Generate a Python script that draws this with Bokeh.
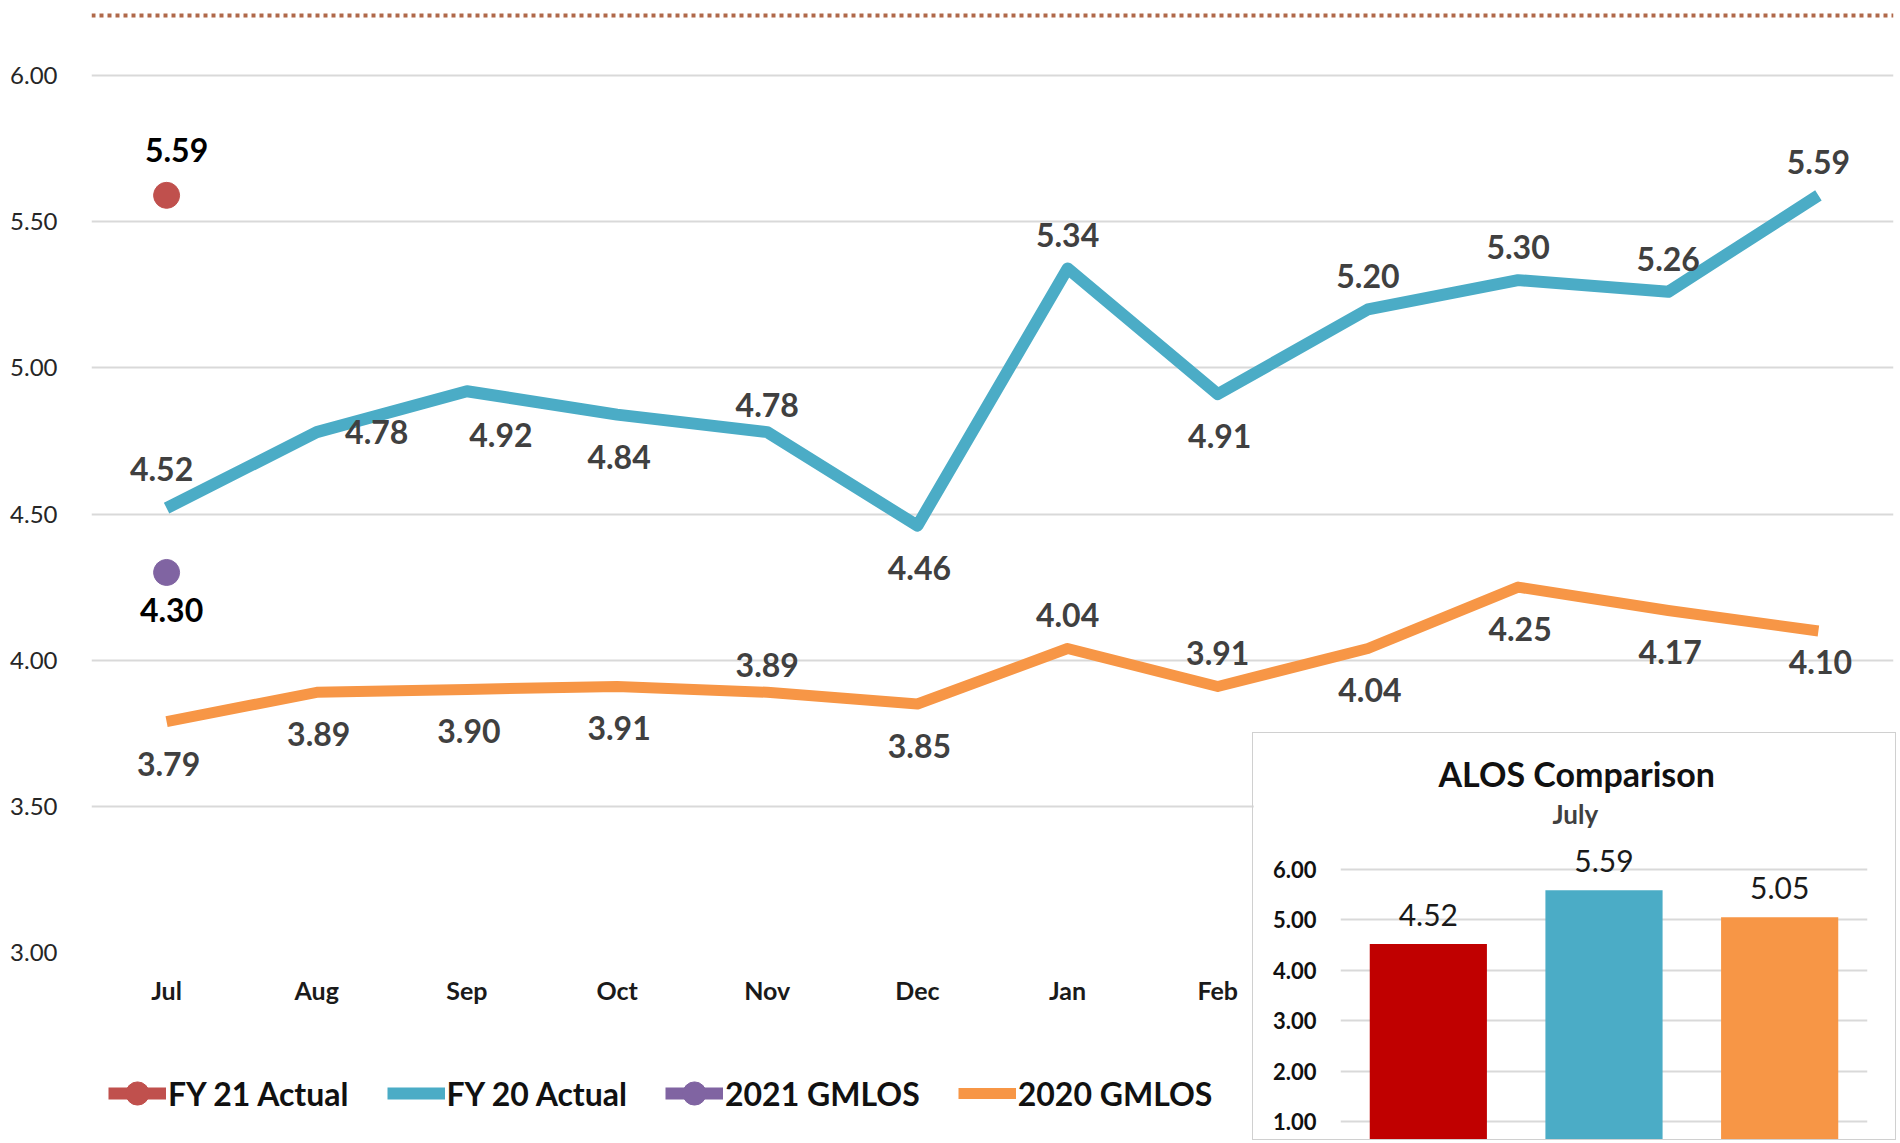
from bokeh.plotting import figure
from bokeh.models import (ColumnDataSource, FactorRange, Range1d, FixedTicker,
                          NumeralTickFormatter, LabelSet, Legend, LegendItem, Span, Title)
from bokeh.core.properties import value
from bokeh.embed import file_html
from bokeh.resources import INLINE

# ---------------- data ----------------
months = ["Jul", "Aug", "Sep", "Oct", "Nov", "Dec", "Jan", "Feb", "Mar", "Apr", "May", "Jun"]
fy20_actual = [4.52, 4.78, 4.92, 4.84, 4.78, 4.46, 5.34, 4.91, 5.20, 5.30, 5.26, 5.59]
gmlos_2020 = [3.79, 3.89, 3.90, 3.91, 3.89, 3.85, 4.04, 3.91, 4.04, 4.25, 4.17, 4.10]
fy21_months = ["Jul"]
fy21_actual = [5.59]
gmlos_2021 = [4.30]
y_ticks = [3.0, 3.5, 4.0, 4.5, 5.0, 5.5, 6.0]

inset_categories = ["FY 21 Actual", "FY 20 Actual", "GMLOS"]
inset_values = [4.52, 5.59, 5.05]
inset_ticks = [1.0, 2.0, 3.0, 4.0, 5.0, 6.0]

# ---------------- styles ----------------
FONT = "Lato"
C_FY21 = "#C0504D"
C_FY20 = "#4BACC6"
C_G21 = "#8064A2"
C_G20 = "#F79646"
inset_colors = ["#C00000", "#4BACC6", "#F79646"]
GRID = "#D9D9D9"

# label placement (style): a=above, b=below, r=right, br=below-right
fy20_pos = ["a_hi", "r", "br", "b", "a_lo", "b", "a", "b", "a", "a", "a", "a"]
g20_pos = ["b", "b", "b", "b", "a_lo", "b", "a", "a", "b", "b", "b", "b_lo"]
OFFS = {"a": (0, 33), "a_hi": (-5, 39), "a_lo": (0, 27),
        "b": (2, -42), "b_lo": (2, -31), "r": (60, 0), "br": (34, -44),
        "a_big": (10, 45), "b_pt": (5, -38)}

# ---------------- main chart ----------------
p = figure(width=1896, height=1140,
           x_range=FactorRange(factors=months, range_padding=0),
           y_range=Range1d(3.0, 6.2292),
           output_backend="svg", toolbar_location=None,
           min_border_left=91, min_border_right=3, min_border_top=8, min_border_bottom=188)
p.outline_line_color = None
p.background_fill_color = "white"
p.border_fill_color = "white"

p.yaxis.ticker = FixedTicker(ticks=y_ticks)
p.yaxis.formatter = NumeralTickFormatter(format="0.00")
p.yaxis.axis_line_color = None
p.yaxis.major_tick_line_color = None
p.yaxis.minor_tick_line_color = None
p.yaxis.major_label_text_font = FONT
p.yaxis.major_label_text_font_size = "24px"
p.yaxis.major_label_text_color = "#262626"
p.yaxis.major_label_standoff = 28

p.xaxis.axis_line_color = None
p.xaxis.major_tick_line_color = None
p.xaxis.minor_tick_line_color = None
p.xaxis.major_label_text_font = FONT
p.xaxis.major_label_text_font_size = "25px"
p.xaxis.major_label_text_font_style = "bold"
p.xaxis.major_label_text_color = "#1a1a1a"
p.xaxis.major_label_standoff = 16

p.xgrid.grid_line_color = None
p.ygrid.ticker = FixedTicker(ticks=y_ticks)
p.ygrid.grid_line_color = GRID
p.ygrid.grid_line_width = 2

top_rule = Span(location=6.2052, dimension="width", line_color="#B0694A",
                line_width=4, line_dash="4 4")
p.add_layout(top_rule)

LINE_STYLES = dict(
    fy21=dict(line_color=C_FY21, line_width=12),
    fy20=dict(line_color=C_FY20, line_width=12, line_join="round"),
    g21=dict(line_color=C_G21, line_width=12),
    g20=dict(line_color=C_G20, line_width=11, line_join="round"),
)


def draw_series(fig):
    r = {}
    r["fy21_line"] = fig.line(fy21_months, fy21_actual, **LINE_STYLES["fy21"])
    r["fy21_pt"] = fig.scatter(fy21_months, fy21_actual, size=26, fill_color=C_FY21, line_color=C_FY21)
    r["fy20"] = fig.line(months, fy20_actual, **LINE_STYLES["fy20"])
    r["g21_line"] = fig.line(fy21_months, gmlos_2021, **LINE_STYLES["g21"])
    r["g21_pt"] = fig.scatter(fy21_months, gmlos_2021, size=26, fill_color=C_G21, line_color=C_G21)
    r["g20"] = fig.line(months, gmlos_2020, **LINE_STYLES["g20"])
    return r


draw_series(p)


def label_source(xs, ys, pos):
    return ColumnDataSource(dict(
        x=xs, y=ys, text=["%.2f" % v for v in ys],
        dx=[OFFS[k][0] for k in pos], dy=[OFFS[k][1] for k in pos]))


def add_labels(src, color, size="32px"):
    p.add_layout(LabelSet(x="x", y="y", text="text", source=src,
                          x_offset="dx", y_offset="dy",
                          text_align="center", text_baseline="middle",
                          text_font=value(FONT), text_font_size=value(size),
                          text_font_style="bold", text_color=color))


add_labels(label_source(months, fy20_actual, fy20_pos), "#404040")
add_labels(label_source(months, gmlos_2020, g20_pos), "#404040")
add_labels(label_source(fy21_months, fy21_actual, ["a_big"]), "#000000")
add_labels(label_source(fy21_months, gmlos_2021, ["b_pt"]), "#000000")

# ---------------- legend (own small figure, series drawn off its visible range) ----------------
leg = figure(width=1140, height=88,
             x_range=FactorRange(factors=months), y_range=Range1d(0, 1),
             output_backend="svg", toolbar_location=None, min_border=0,
             x_axis_type=None, y_axis_type=None)
leg.outline_line_color = None
leg.background_fill_color = None
leg.border_fill_color = None
lr = draw_series(leg)
legend = Legend(items=[
    LegendItem(label="FY 21 Actual", renderers=[lr["fy21_line"], lr["fy21_pt"]]),
    LegendItem(label="FY 20 Actual", renderers=[lr["fy20"]]),
    LegendItem(label="2021 GMLOS", renderers=[lr["g21_line"], lr["g21_pt"]]),
    LegendItem(label="2020 GMLOS", renderers=[lr["g20"]]),
], orientation="horizontal", location="top_left")
legend.label_text_font = FONT
legend.label_text_font_size = "32px"
legend.label_text_font_style = "bold"
legend.label_text_color = "#111111"
legend.glyph_width = 58
legend.glyph_height = 60
legend.label_standoff = 2
legend.spacing = 38
legend.padding = 8
legend.margin = 10
legend.border_line_color = None
legend.background_fill_alpha = 0
leg.add_layout(legend)
leg.styles = {"position": "absolute", "left": "98px", "top": "1053px"}

# ---------------- inset chart ----------------
inset = figure(width=644, height=408,
               x_range=FactorRange(factors=inset_categories, range_padding=0),
               y_range=Range1d(0.603, 6.813),
               output_backend="svg", toolbar_location=None, title=None,
               min_border_left=87, min_border_right=30, min_border_top=95, min_border_bottom=0)
inset.outline_line_color = None
inset.xaxis.visible = False
inset.xgrid.grid_line_color = None
inset.ygrid.ticker = FixedTicker(ticks=inset_ticks)
inset.ygrid.grid_line_color = GRID
inset.ygrid.grid_line_width = 2
inset.yaxis.ticker = FixedTicker(ticks=inset_ticks)
inset.yaxis.formatter = NumeralTickFormatter(format="0.00")
inset.yaxis.axis_line_color = None
inset.yaxis.major_tick_line_color = None
inset.yaxis.minor_tick_line_color = None
inset.yaxis.major_label_text_font = FONT
inset.yaxis.major_label_text_font_size = "22px"
inset.yaxis.major_label_text_font_style = "bold"
inset.yaxis.major_label_text_color = "#111111"
inset.yaxis.major_label_standoff = 18

bar_src = ColumnDataSource(dict(x=inset_categories, top=inset_values, color=inset_colors,
                                text=["%.2f" % v for v in inset_values]))
inset.vbar(x="x", top="top", bottom=0, width=0.667, fill_color="color", line_color=None, source=bar_src)
inset.add_layout(LabelSet(x="x", y="top", text="text", source=bar_src, y_offset=29,
                          text_align="center", text_baseline="middle",
                          text_font=value(FONT), text_font_size=value("30px"),
                          text_color="#1a1a1a"))

inset.add_layout(Title(text="July", align="left", offset=212, text_font=FONT,
                       text_font_size="26px", text_font_style="bold",
                       text_color="#404040", standoff=-3), "above")
inset.add_layout(Title(text="ALOS Comparison", align="left", offset=98, text_font=FONT,
                       text_font_size="34px", text_font_style="bold", text_color="#111111",
                       standoff=8), "above")

inset.styles = {"position": "absolute", "left": "1252px", "top": "732px",
                "border": "1px solid #D0D0D0"}

open("out.html", "w").write(file_html([p, leg, inset], INLINE, title="ALOS"))
